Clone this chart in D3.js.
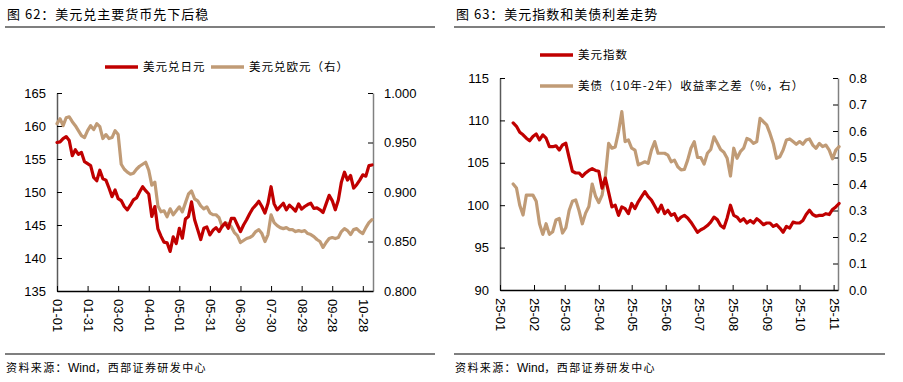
<!DOCTYPE html>
<html>
<head>
<meta charset="utf-8">
<script src="https://cdn.jsdelivr.net/npm/d3@7/dist/d3.min.js"></script>
<style>
  body { margin: 0; background: #fff; }
  svg text { font-family: "Liberation Sans", Arial, sans-serif; fill: #000; }
  svg text.cn { font-family: "Noto Sans CJK SC", sans-serif; }
</style>
</head>
<body>
<svg id="chart-svg"></svg>
<script>
const WIDTH = 903;
const HEIGHT = 382;

const RED = "#C00000";
const TAN = "#C09B76";

// Datos 图62: cada 3 días desde 2025-01-01.
const JPY_START = "2025-01-01";
const STEP_DAYS = 3;

const usdjpy = [
  157.5, 157.6, 158.1, 158.4, 157.8, 155.5, 156.4, 155.7, 156.0, 154.6,
  154.3, 154.0, 152.2, 151.7, 153.3, 152.0, 151.8, 150.6, 149.3, 150.3,
  149.0, 148.7, 147.8, 147.3, 148.0, 148.8, 149.1, 150.0, 150.8, 150.2,
  149.7, 146.3, 147.8, 144.4, 143.3, 142.4, 142.3, 141.0, 143.2, 142.2,
  144.5, 143.0, 145.9, 146.3, 148.5, 145.8, 144.3, 142.8, 144.5, 144.7,
  143.5, 144.2, 144.6, 144.0, 144.8, 145.3, 144.5, 146.0, 146.0, 145.0,
  144.0, 145.0, 145.8, 146.7, 147.5, 148.0, 148.6, 147.8, 146.8, 148.3,
  150.8, 148.2, 147.3, 147.8, 148.3, 147.3, 148.0, 147.6, 147.1, 148.2,
  147.4, 147.8, 148.1, 148.3, 147.5, 147.6, 147.3, 146.9, 148.2, 149.5,
  148.7, 147.3, 148.8, 151.5, 153.0, 151.8, 152.5, 150.6, 151.1, 151.8,
  152.6, 152.4, 154.0, 154.1
];

const usdeur = [
  0.969, 0.974, 0.967, 0.975, 0.976, 0.971, 0.967, 0.962, 0.957, 0.955,
  0.962, 0.967, 0.963, 0.969, 0.966, 0.954, 0.958, 0.954, 0.955, 0.962,
  0.958, 0.928, 0.923, 0.920, 0.918, 0.919, 0.923, 0.926, 0.928, 0.930,
  0.922, 0.907, 0.910, 0.886, 0.880, 0.881, 0.875, 0.883, 0.877, 0.881,
  0.885, 0.880, 0.889, 0.898, 0.901, 0.893, 0.891, 0.886, 0.883, 0.885,
  0.879, 0.877, 0.877, 0.874, 0.865, 0.869, 0.868, 0.865, 0.859, 0.856,
  0.849, 0.851, 0.853, 0.854, 0.856, 0.860, 0.862, 0.858, 0.850, 0.857,
  0.877, 0.869, 0.866, 0.864, 0.863, 0.864, 0.862, 0.862, 0.860, 0.861,
  0.860, 0.861, 0.858, 0.857, 0.855, 0.852, 0.850, 0.844, 0.849, 0.853,
  0.854, 0.853, 0.854, 0.860, 0.863, 0.861, 0.857, 0.862, 0.863, 0.860,
  0.858, 0.864, 0.869, 0.872
];

const leftTickLabels = ["01-01", "01-31", "03-02", "04-01", "05-01", "05-31",
                        "06-30", "07-30", "08-29", "09-28", "10-28"];
const leftYTicks = [135, 140, 145, 150, 155, 160, 165];
const leftY2Ticks = [0.800, 0.850, 0.900, 0.950, 1.000];

// Datos 图63: cada 3 días desde 2025-01-13.
const DXY_START = "2025-01-13";

const dxy = [
  109.7, 109.3, 108.6, 108.3, 107.9, 107.6, 108.1, 108.4, 107.7, 108.3,
  107.9, 106.9, 106.9, 107.0, 106.5, 107.1, 107.3, 105.6, 104.0, 103.8,
  103.8, 103.4, 103.8, 104.1, 104.3, 104.1, 104.0, 102.0, 103.2, 101.5,
  99.8, 100.0, 98.8, 99.8, 99.6, 99.0, 100.2, 99.6, 100.4, 101.0,
  101.6, 101.0, 100.6, 99.9, 99.2, 100.0, 99.0, 99.4, 98.8, 99.0,
  98.2, 98.6, 98.8, 98.5, 98.0, 97.4, 96.8, 97.1, 97.3, 97.6,
  98.0, 98.6, 98.3, 97.6, 97.3, 98.5, 100.0, 98.8, 98.6, 98.1,
  98.4, 97.9, 98.2, 97.9, 98.4, 98.1, 97.7, 97.9, 97.9, 97.5,
  97.7, 97.3, 96.8, 97.5, 97.3, 98.0, 97.9, 97.9, 98.2, 98.9,
  99.4, 98.9, 98.7, 98.8, 98.8, 99.0, 98.9, 99.5, 99.8, 100.2
];

const spread = [
  0.400, 0.385, 0.320, 0.283, 0.358, 0.358, 0.358, 0.335, 0.250, 0.210,
  0.250, 0.210, 0.220, 0.264, 0.270, 0.215, 0.235, 0.300, 0.335, 0.340,
  0.300, 0.250, 0.290, 0.315, 0.400, 0.355, 0.330, 0.358, 0.428, 0.553,
  0.535, 0.540, 0.597, 0.673, 0.560, 0.566, 0.535, 0.528, 0.472, 0.478,
  0.484, 0.478, 0.528, 0.560, 0.516, 0.516, 0.516, 0.509, 0.484, 0.490,
  0.465, 0.453, 0.455, 0.490, 0.535, 0.560, 0.500, 0.500, 0.475, 0.516,
  0.530, 0.578, 0.555, 0.530, 0.520, 0.497, 0.430, 0.535, 0.497, 0.522,
  0.535, 0.572, 0.566, 0.553, 0.560, 0.648, 0.635, 0.623, 0.591, 0.553,
  0.497, 0.503, 0.528, 0.566, 0.570, 0.560, 0.550, 0.560, 0.550, 0.566,
  0.570, 0.547, 0.535, 0.553, 0.541, 0.547, 0.528, 0.495, 0.528, 0.541
];

const rightTickLabels = ["25-01", "25-02", "25-03", "25-04", "25-05", "25-06",
                         "25-07", "25-08", "25-09", "25-10", "25-11"];
const rightYTicks = [90, 95, 100, 105, 110, 115];
const rightY2Ticks = [0.0, 0.1, 0.2, 0.3, 0.4, 0.5, 0.6, 0.7, 0.8];

// Svg base.
const svg = d3.select("svg#chart-svg")
              .attr("width", WIDTH)
              .attr("height", HEIGHT);

const parseDay = d3.timeParse("%Y-%m-%d");

const toSeries = (start, values) => values.map((v, i) => ({
  date: d3.timeDay.offset(parseDay(start), i * STEP_DAYS),
  value: v
}));

// Marco: título, reglas y fuente.
const drawFrame = (x0, x1, title) => {
  svg.append("text")
     .attr("class", "cn")
     .attr("x", x0 + 2)
     .attr("y", 19)
     .style("font-size", "13px")
     .style("letter-spacing", "1px")
     .text(title);

  [27, 354].forEach(y => {
    svg.append("line")
       .attr("x1", x0).attr("x2", x1)
       .attr("y1", y).attr("y2", y)
       .attr("stroke", "#000")
       .attr("stroke-width", 1.2);
  });

  const source = svg.append("text")
                    .attr("class", "cn")
                    .attr("x", x0 + 1)
                    .attr("y", 372)
                    .style("font-size", "11px");
  source.append("tspan").style("letter-spacing", "1.4px").text("资料来源：");
  source.append("tspan")
        .style("font-family", "'Liberation Sans', Arial, sans-serif")
        .style("font-size", "12px")
        .text("Wind");
  source.append("tspan").style("letter-spacing", "1.4px").text("，西部证券研发中心");
};

const styleAxis = (g, color) => {
  g.select(".domain").attr("stroke", color).attr("stroke-width", 1.5);
  g.selectAll(".tick line").attr("stroke", "#000");
  g.selectAll(".tick text")
   .style("font-size", "13px")
   .style("font-family", "'Liberation Sans', Arial, sans-serif")
   .attr("fill", "#000");
};

const drawLegendItem = (x, y, color, label) => {
  svg.append("line")
     .attr("x1", x).attr("x2", x + 33)
     .attr("y1", y).attr("y2", y)
     .attr("stroke", color)
     .attr("stroke-width", 3.5);
  svg.append("text")
     .attr("class", "cn")
     .attr("x", x + 38)
     .attr("y", y + 4)
     .style("font-size", "11.5px")
     .style("letter-spacing", "1px")
     .text(label);
};

const drawLine = (data, x, y, color) => {
  svg.append("path")
     .datum(data)
     .attr("fill", "none")
     .attr("stroke", color)
     .attr("stroke-width", 3.2)
     .attr("stroke-linejoin", "round")
     .attr("stroke-linecap", "round")
     .attr("d", d3.line().x(d => x(d.date)).y(d => y(d.value)));
};

const rotateXLabels = (g) => {
  g.selectAll(".tick text")
   .attr("transform", "rotate(90)")
   .attr("x", 8)
   .attr("y", 0)
   .attr("dy", "0.35em")
   .style("text-anchor", "start");
};

// ---------- 图62 ----------
drawFrame(5, 435, "图 62：美元兑主要货币先下后稳");

const L = { left: 57, right: 373, top: 93, bottom: 291 };

const xLeft = d3.scaleTime()
                .domain([parseDay("2025-01-01"), parseDay("2025-11-07")])
                .range([L.left, L.right]);
const yJpy = d3.scaleLinear().domain([135, 165]).range([L.bottom, L.top]);
const yEur = d3.scaleLinear().domain([0.8, 1.0]).range([L.bottom, L.top]);

const leftTickDates = leftTickLabels.map(t => parseDay("2025-" + t));

svg.append("g")
   .attr("transform", `translate(${L.left},0)`)
   .call(d3.axisLeft(yJpy).tickValues(leftYTicks).tickSize(-5).tickSizeOuter(0).tickPadding(11))
   .call(g => styleAxis(g, "#595959"));

svg.append("g")
   .attr("transform", `translate(${L.right},0)`)
   .call(d3.axisRight(yEur).tickValues(leftY2Ticks).tickFormat(d3.format(".3f"))
           .tickSize(-5).tickSizeOuter(0).tickPadding(11))
   .call(g => styleAxis(g, "#808080"));

svg.append("g")
   .attr("transform", `translate(0,${L.bottom})`)
   .call(d3.axisBottom(xLeft).tickValues(leftTickDates).tickFormat(d3.timeFormat("%m-%d"))
           .tickSize(-5).tickSizeOuter(0))
   .call(g => styleAxis(g, "#000"))
   .call(rotateXLabels);

drawLine(toSeries(JPY_START, usdeur), xLeft, yEur, TAN);
drawLine(toSeries(JPY_START, usdjpy), xLeft, yJpy, RED);

drawLegendItem(105, 67, RED, "美元兑日元");
drawLegendItem(211, 67, TAN, "美元兑欧元（右）");

// ---------- 图63 ----------
drawFrame(454, 885, "图 63：美元指数和美债利差走势");

const R = { left: 500, right: 838, top: 78, bottom: 290 };

const xRight = d3.scaleTime()
                 .domain([parseDay("2025-01-01"), parseDay("2025-11-05")])
                 .range([R.left, R.right]);
const yDxy = d3.scaleLinear().domain([90, 115]).range([R.bottom, R.top]);
const ySpread = d3.scaleLinear().domain([0, 0.8]).range([R.bottom, R.top]);

const parseMonth = d3.timeParse("%y-%m");
const rightTickDates = rightTickLabels.map(t => parseMonth(t));

svg.append("g")
   .attr("transform", `translate(${R.left},0)`)
   .call(d3.axisLeft(yDxy).tickValues(rightYTicks).tickSize(-5).tickSizeOuter(0).tickPadding(11))
   .call(g => styleAxis(g, "#595959"));

svg.append("g")
   .attr("transform", `translate(${R.right},0)`)
   .call(d3.axisRight(ySpread).tickValues(rightY2Ticks).tickFormat(d3.format(".1f"))
           .tickSize(-5).tickSizeOuter(0).tickPadding(11))
   .call(g => styleAxis(g, "#808080"));

svg.append("g")
   .attr("transform", `translate(0,${R.bottom})`)
   .call(d3.axisBottom(xRight).tickValues(rightTickDates).tickFormat(d3.timeFormat("%y-%m"))
           .tickSize(-5).tickSizeOuter(0))
   .call(g => styleAxis(g, "#000"))
   .call(rotateXLabels);

drawLine(toSeries(DXY_START, spread), xRight, ySpread, TAN);
drawLine(toSeries(DXY_START, dxy), xRight, yDxy, RED);

drawLegendItem(540, 55, RED, "美元指数");
drawLegendItem(540, 86, TAN, "美债（10年-2年）收益率之差（%，右）");
</script>
</body>
</html>
